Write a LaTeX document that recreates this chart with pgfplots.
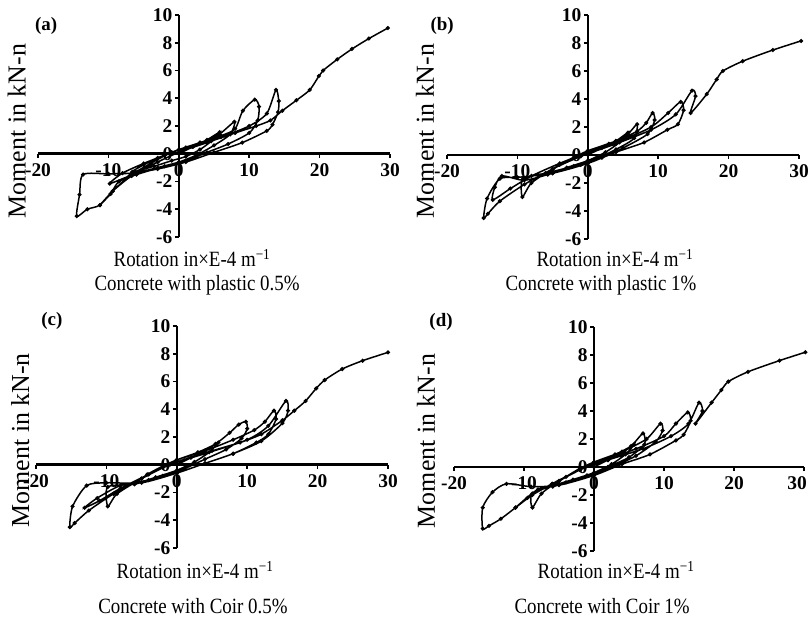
\documentclass[border=0pt]{standalone}
\usepackage{fontspec}
\setmainfont{Liberation Serif}
\usepackage{graphicx}
\usepackage{pgfplots}
\pgfplotsset{compat=1.18}
\newcommand\st[1]{\scalebox{1}[1.15]{#1}}
\pgfplotsset{
 hyst/.style={black, line width=1.5bp, smooth, tension=0.45, mark=*, mark size=1.2bp, mark options={solid, fill=black}},
 panel/.style={
  scale only axis, width=352bp, height=222bp,
  xmin=-20,xmax=30,ymin=-6,ymax=10,
  axis lines=middle,
  axis line style={-, line width=2.6bp, black},
  axis on top,
  clip=false,
  xtick={-20,-10,0,10,20,30}, xticklabels={-20,-10,0,10,20,30},
  ytick={-6,-4,-2,0,2,4,6,8,10}, yticklabels={-6,-4,-2,0,2,4,6,8,10},
  hide obscured x ticks=false, hide obscured y ticks=false,
  major tick length=4bp, tick align=outside,
  tick style={black, line width=1.6bp},
  ticklabel style={font=\fontsize{19.5}{20}\selectfont\bfseries},
  xticklabel style={yshift=-2bp},
  yticklabel style={xshift=1bp},
  xlabel style={font=\fontsize{19}{21}\selectfont, anchor=center},
  ylabel style={font=\fontsize{26}{28}\selectfont, rotate=90, anchor=center},
  title style={font=\fontsize{19}{21}\selectfont, anchor=center, yshift=-8bp},
  ylabel={Moment in kN-n},
  xlabel={\st{Rotation in×E-4 m\textsuperscript{−1}}},
 }
}
\begin{document}
\begin{tikzpicture}
% (a)
\begin{axis}[panel, at={(38bp,385bp)}, anchor=south west,
 ylabel style={at={(axis description cs:-0.060,0.477)}},
 xlabel style={at={(axis description cs:0.4375,-0.095)}},
 title={\st{Concrete with plastic 0.5\%}}, title style={at={(axis description cs:0.452,-0.207)}}]
\addplot[hyst] coordinates {(0,0) (2,0.5) (4,1.0) (5.8,1.55) (4.6,0.9) (3,0.3) (1,-0.2) (-1,-0.5) (-3.5,-0.9) (-6.6,-1.3) (-5,-0.8) (-3,-0.3) (-1,0.1) (1,0.45) (3,0.8) (5.5,1.3) (7.9,2.3) (7.3,1.4) (5,0.6) (2.5,-0.1) (0,-0.6) (-3,-1.0) (-6,-1.4) (-9.8,-2.15) (-8,-1.4) (-5,-0.7) (-2,-0.1) (0,0.3) (3,0.8) (6,1.3) (8,1.8) (9.1,3.1) (10.8,3.9) (11.4,3.4) (11.2,2.4) (10,1.5) (7,0.7) (4,0.1) (1,-0.5) (-2,-0.9) (-6,-1.5) (-8.5,-2.0) (-9.7,-2.9) (-11.2,-3.7) (-9.4,-2.7) (-7,-1.6) (-4,-0.7) (-1,0.1) (2,0.5) (6,1.2) (10,2.0) (12.5,2.9) (13.8,4.6) (14.2,3.8) (14.1,3.0) (13.3,2.1) (12.5,1.65) (9,0.8) (5,0.1) (1,-0.6) (-3,-1.1) (-6.7,-1.4) (-10,-1.45) (-13.6,-1.5) (-14.1,-2.95) (-14.5,-4.5) (-13,-4.0) (-11.2,-3.7) (-9.4,-2.7) (-6.7,-1.6) (-3,-0.6) (0,0.1) (4,0.8) (8,1.5) (11,2.0) (13,2.4) (14.7,3.1) (16.7,3.85) (18.6,4.6) (19.9,5.6) (20.5,6.0) (22.5,6.8) (24.6,7.55) (27,8.3) (29.7,9.06)};
\node[font=\fontsize{19}{20}\selectfont\bfseries] at (axis description cs:0.023,0.95) {(a)};
\end{axis}
% (b)
\begin{axis}[panel, height=224bp, at={(447bp,383bp)}, anchor=south west,
 ylabel style={at={(axis description cs:-0.0625,0.482)}},
 xlabel style={at={(axis description cs:0.477,-0.085)}},
 title={\st{Concrete with plastic 1\%}}, title style={at={(axis description cs:0.4375,-0.196)}}]
\addplot[hyst] coordinates {(0,0) (2,0.5) (4,1.0) (5.7,1.6) (4.5,0.9) (2.5,0.2) (0,-0.4) (-3,-0.9) (-5.7,-1.4) (-4,-0.7) (-2,-0.2) (0,0.3) (3,0.8) (5.5,1.4) (7.0,2.2) (6.6,1.2) (4,0.4) (1,-0.3) (-2,-0.8) (-6,-1.3) (-9.2,-1.7) (-9.3,-3.0) (-8,-2.0) (-5,-1.0) (-2,-0.2) (0,0.3) (4,1.0) (7,1.7) (8.3,2.3) (9.2,3.0) (9.5,2.5) (8.5,1.5) (5,0.5) (2,-0.2) (-1,-0.7) (-5,-1.3) (-9,-1.8) (-12.2,-1.5) (-13.2,-2.3) (-13.5,-3.2) (-11,-2.4) (-8,-1.5) (-4,-0.6) (0,0.2) (5,1.1) (9,2.0) (11.4,3.0) (13.2,3.8) (13.6,3.2) (12.8,2.2) (11.3,1.8) (8,0.9) (4,0.2) (0,-0.6) (-5,-1.3) (-10,-1.6) (-12.5,-1.7) (-14.3,-3.1) (-14.8,-4.5) (-14.2,-4.2) (-12.5,-3.3) (-9,-2.1) (-5,-1.0) (-1,-0.1) (4,0.8) (9,1.8) (12.5,2.9) (14.8,4.6) (15.3,4.2) (14.6,3.0) (16.9,4.35) (18.3,5.4) (19.2,6.0) (22,6.7) (26.3,7.5) (30.3,8.15)};
\node[font=\fontsize{19}{20}\selectfont\bfseries] at (axis description cs:-0.014,0.951) {(b)};
\end{axis}
% (c)
\begin{axis}[panel, at={(36bp,74bp)}, anchor=south west,
 ylabel style={at={(axis description cs:-0.045,0.486)}},
 xlabel style={at={(axis description cs:0.452,-0.099)}},
 title={\st{Concrete with Coir 0.5\%}}, title style={at={(axis description cs:0.446,-0.252)}}]
\addplot[hyst] coordinates {(0,0) (2,0.5) (4,1.0) (5.9,1.6) (4.6,0.9) (2.5,0.2) (0,-0.4) (-3,-0.9) (-6,-1.4) (-4.2,-0.7) (-2,-0.1) (0,0.35) (3,0.9) (5.5,1.5) (7.5,2.3) (8.8,2.9) (9.8,3.1) (10,2.6) (9.2,1.9) (7,1.1) (4,0.4) (1,-0.3) (-2,-0.8) (-6,-1.4) (-9.8,-1.6) (-9.8,-3.0) (-8.5,-2.1) (-5,-1.0) (-2,-0.2) (0,0.35) (4,1.0) (8,1.8) (11,2.5) (12.5,3.1) (13.8,3.9) (14.1,3.3) (13,2.2) (11.3,1.6) (8,0.8) (4,0.1) (0,-0.6) (-4,-1.1) (-8,-1.5) (-11.3,-2.4) (-13.1,-3.1) (-11,-2.6) (-8,-1.7) (-4,-0.7) (0,0.2) (5,1.0) (10,1.8) (13,2.8) (15.5,4.6) (15.8,3.9) (15,3.0) (12,1.7) (8,0.8) (4,0.1) (0,-0.6) (-5,-1.3) (-10,-1.3) (-12.8,-1.5) (-14.8,-3.0) (-15.2,-4.5) (-14.5,-4.2) (-12.5,-3.3) (-9,-2.1) (-5,-1.0) (-1,0.0) (4,0.8) (9,1.6) (12,2.2) (15.0,3.2) (16.7,3.9) (18.3,4.6) (19.8,5.5) (21.0,6.1) (23.5,6.9) (26.4,7.5) (30,8.1)};
\node[font=\fontsize{19}{20}\selectfont\bfseries] at (axis description cs:0.045,1.023) {(c)};
\end{axis}
% (d)
\begin{axis}[panel, width=350bp, height=224bp, at={(454bp,71bp)}, anchor=south west,
 xticklabels={-20,-10,0,10,20,\kern-14bp 30},
 ylabel style={at={(axis description cs:-0.08,0.491)}},
 xlabel style={at={(axis description cs:0.463,-0.085)}},
 title={\st{Concrete with Coir 1\%}}, title style={at={(axis description cs:0.423,-0.237)}}]
\addplot[hyst] coordinates {(0,0) (2,0.5) (4,1.0) (5.7,1.6) (4.5,0.9) (2.5,0.2) (0,-0.4) (-3,-0.9) (-5.9,-1.4) (-4,-0.7) (-2,-0.1) (0,0.35) (3,0.9) (5.3,1.5) (7.0,2.4) (7.2,1.6) (5,0.7) (2,0) (-1,-0.6) (-5,-1.2) (-8.8,-1.9) (-8.8,-2.9) (-7.5,-1.9) (-5,-1.0) (-2,-0.2) (0,0.35) (4,1.1) (7.5,2.0) (9.5,3.1) (9.8,2.6) (8.8,1.8) (6,0.8) (3,0.1) (0,-0.5) (-4,-1.1) (-8,-1.6) (-11.2,-2.9) (-9.5,-2.2) (-6,-1.2) (-2,-0.2) (1,0.4) (6,1.3) (10,2.2) (11.7,3.1) (13.4,3.9) (13.8,3.3) (12.8,2.3) (11.7,1.9) (8,0.9) (4,0.2) (0,-0.6) (-5,-1.3) (-9,-1.4) (-12.5,-1.2) (-14.5,-1.8) (-15.9,-2.9) (-15.9,-4.4) (-15,-4.2) (-13.3,-3.7) (-11.2,-2.9) (-8.8,-2.0) (-5.9,-1.2) (-2,-0.2) (2,0.5) (7,1.3) (11,2.2) (13.5,3.1) (15.0,4.6) (15.5,4.0) (14.5,3.1) (16.8,4.6) (18.2,5.5) (19.2,6.1) (22,6.8) (26.5,7.6) (30.2,8.2)};
\node[font=\fontsize{19}{20}\selectfont\bfseries] at (axis description cs:-0.037,1.022) {(d)};
\end{axis}
\pgfresetboundingbox
\path[use as bounding box] (0,0) rectangle (808bp,622bp);
\end{tikzpicture}
\end{document}
